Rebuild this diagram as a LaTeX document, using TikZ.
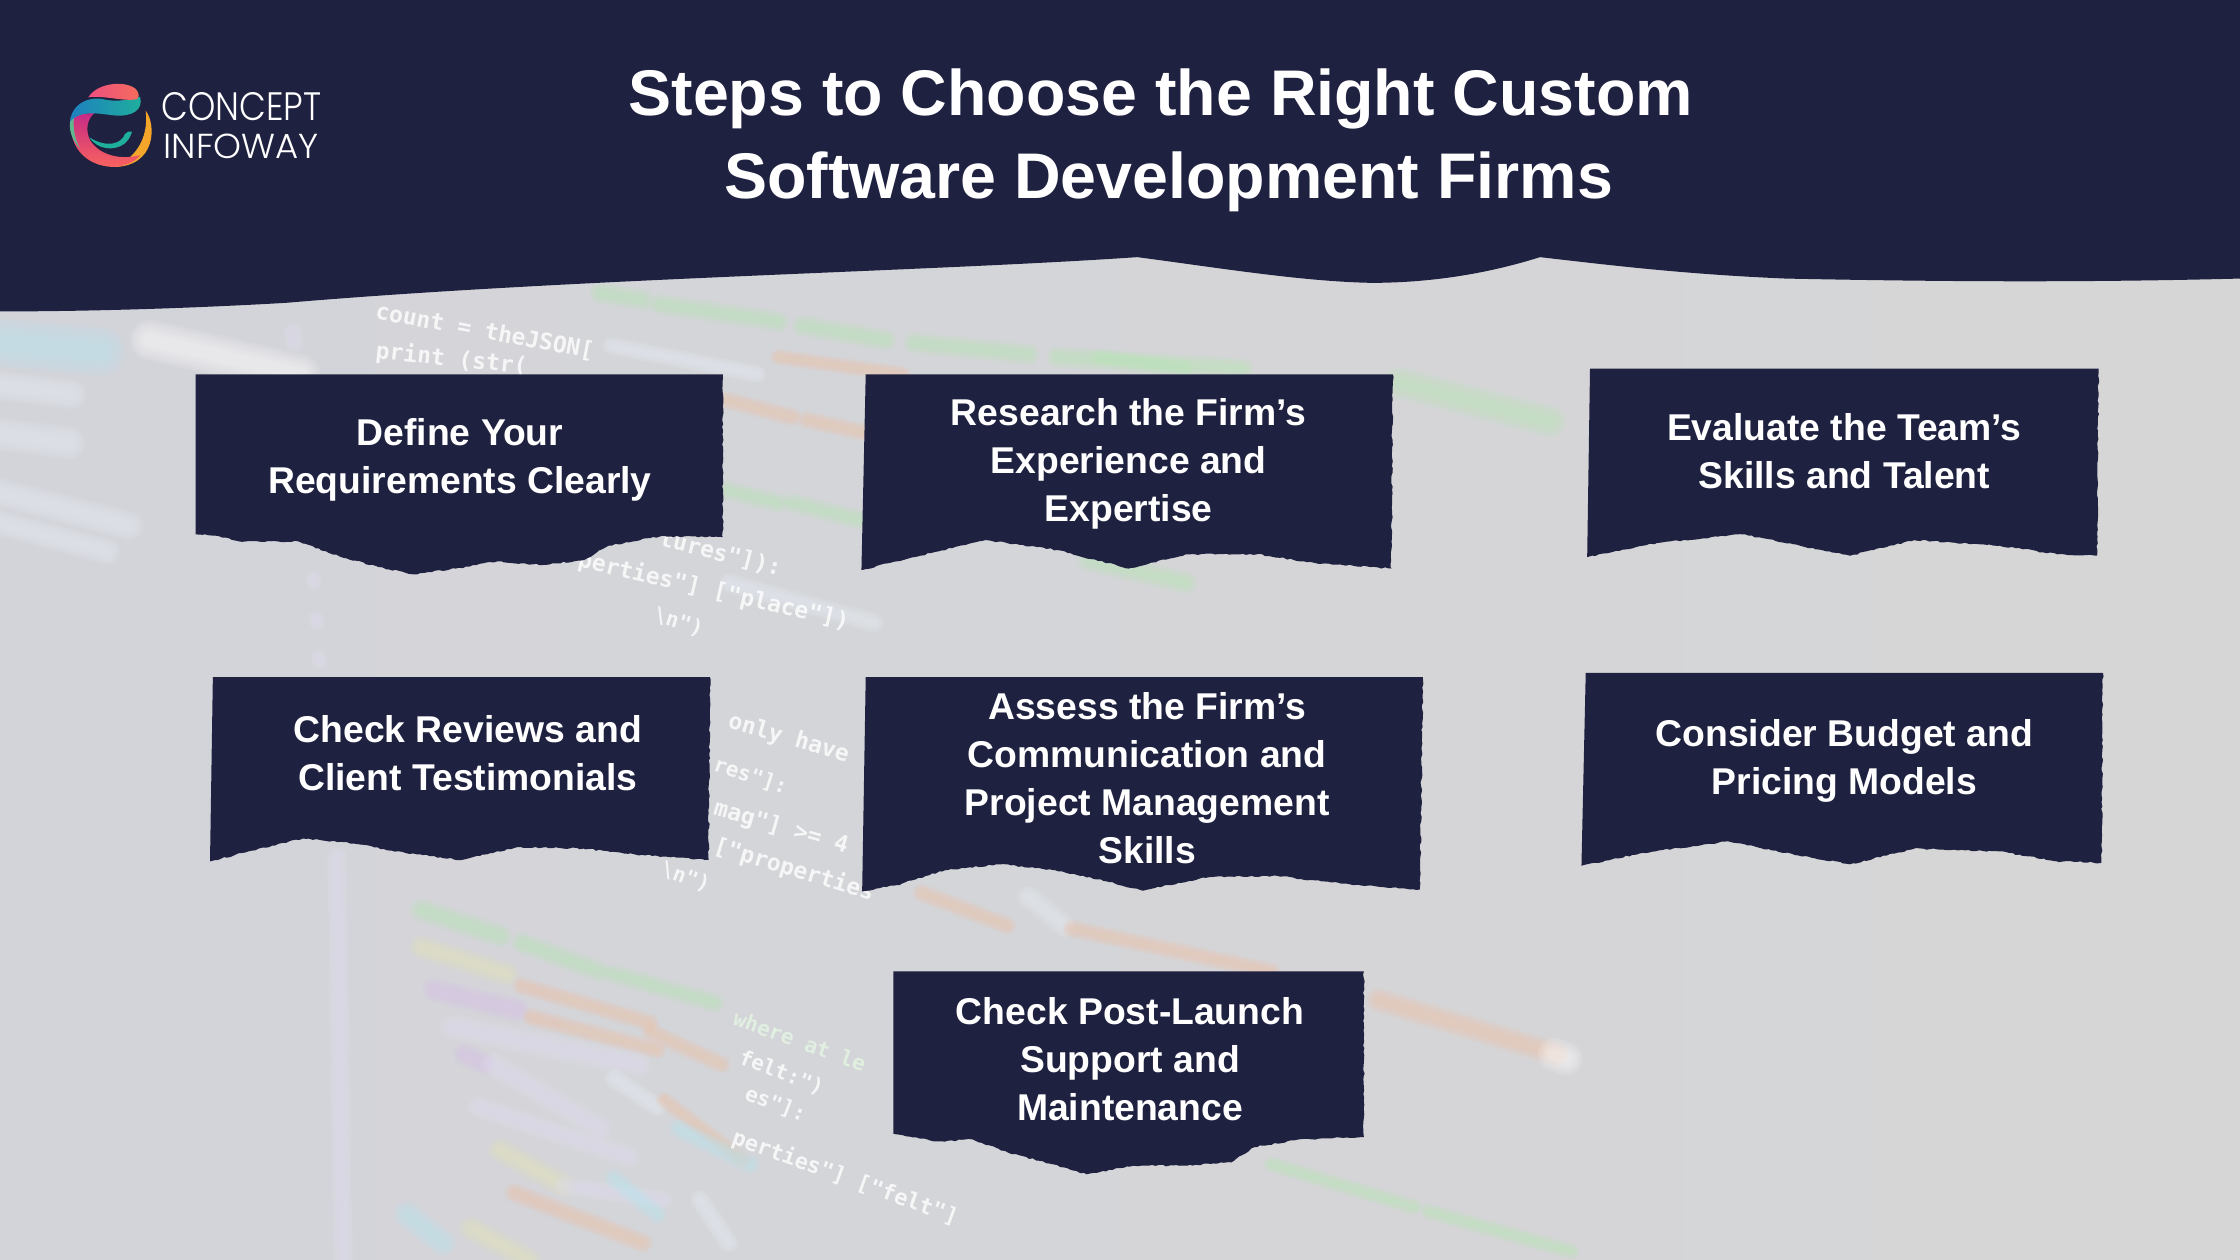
\documentclass[tikz,border=0pt]{standalone}
\usepackage{fontspec}
\usepackage{graphicx}
\setmainfont{Liberation Sans}
\newfontfamily\codef{DejaVu Sans Mono}
\newfontfamily\logof{Poppins Light}
\usetikzlibrary{decorations.pathmorphing}
\definecolor{navy}{HTML}{1F2140}
\definecolor{bgleft}{HTML}{D3D4DA}
\definecolor{bgright}{HTML}{D6D6D6}
\definecolor{salmon}{HTML}{EFC4AC}
\definecolor{mint}{HTML}{BCE8BA}
\definecolor{lav}{HTML}{E2E0F2}
\definecolor{ice}{HTML}{E8EEF5}
\definecolor{sky}{HTML}{BCE6F0}
\definecolor{sand}{HTML}{E6E4BC}
\definecolor{orchid}{HTML}{DCC4E8}
\definecolor{logoorange}{HTML}{F4A62A}
\definecolor{logomag}{HTML}{C42A86}
\definecolor{logocoral}{HTML}{F8625E}
\definecolor{logoblue}{HTML}{1E80BE}
\definecolor{logoteal}{HTML}{1FB09C}
\definecolor{logopink}{HTML}{EE4F80}
\definecolor{logored}{HTML}{F46C5C}
\definecolor{logogreen}{HTML}{5FB88E}
\tikzset{
  cardtext/.style={text=white,font=\fontsize{37.3}{48}\selectfont\bfseries,align=center,inner sep=0},
  titletext/.style={text=white,font=\fontsize{64.5}{80}\selectfont\bfseries,inner sep=0},
  codetext/.style={text=white,opacity=.8,font=\codef\bfseries\fontsize{#1}{#1}\selectfont,inner sep=0,anchor=west},
}
\newcommand{\blurline}[6]{%
  \foreach \f in {1.7,1.5,1.3,1.1,.9,.7,.5}{%
    \draw[line cap=round,draw=#5,opacity=.1,line width=\f*#6pt] (#1,#2) -- (#3,#4);}}
\newcommand{\torncard}[3]{%
  \fill[navy] #1 -- #2 decorate[decoration={random steps,segment length=3.5pt,amplitude=.8pt}]{#3} -- cycle;}
\begin{document}
\begin{tikzpicture}[x=1.42857pt,y=-1.42857pt]
\useasboundingbox (0,0) rectangle (1568,882);
\pgfmathsetseed{11}
% background
\shade[left color=bgleft,right color=bgright] (0,0) rectangle (1568,882);
% blurred code, top left
\blurline{0}{240}{70}{246}{sky}{30}
\blurline{105}{238}{210}{262}{white}{24}
\blurline{0}{270}{50}{276}{ice}{18}
\blurline{0}{304}{48}{310}{ice}{20}
\blurline{0}{345}{90}{368}{ice}{18}
\blurline{0}{366}{75}{386}{ice}{16}
\blurline{205}{233}{206}{240}{lav}{12}
\blurline{219}{405}{220}{408}{lav}{10}
\blurline{221}{433}{222}{436}{lav}{10}
\blurline{223}{460}{224}{463}{lav}{10}
% blurred code, top centre
\blurline{420}{205}{450}{210}{mint}{13}
\blurline{462}{213}{545}{225}{mint}{13}
\blurline{562}{228}{620}{238}{mint}{13}
\blurline{640}{240}{720}{248}{mint}{13}
\blurline{740}{250}{870}{258}{mint}{13}
\blurline{428}{242}{530}{262}{ice}{11}
\blurline{545}{250}{632}{262}{salmon}{10}
\blurline{508}{280}{555}{292}{salmon}{11}
\blurline{565}{294}{606}{303}{salmon}{11}
\blurline{508}{343}{545}{352}{mint}{12}
\blurline{555}{352}{602}{364}{mint}{12}
\blurline{762}{392}{830}{408}{mint}{14}
\blurline{770}{250}{830}{258}{mint}{10}
\blurline{980}{268}{1085}{295}{mint}{20}
\blurline{510}{408}{612}{436}{ice}{12}
% blurred code, centre and bottom
\blurline{645}{625}{705}{648}{salmon}{11}
\blurline{720}{628}{745}{648}{ice}{14}
\blurline{750}{650}{890}{680}{salmon}{11}
\blurline{965}{700}{1090}{738}{salmon}{15}
\blurline{1088}{738}{1096}{741}{white}{20}
\blurline{890}{815}{990}{845}{mint}{10}
\blurline{1000}{848}{1100}{876}{mint}{10}
\blurline{236}{600}{240}{882}{lav}{13}
\blurline{295}{637}{350}{655}{mint}{14}
\blurline{365}{660}{420}{680}{mint}{13}
\blurline{430}{682}{500}{702}{mint}{12}
\blurline{295}{663}{355}{682}{sand}{15}
\blurline{365}{690}{455}{716}{salmon}{11}
\blurline{304}{693}{362}{707}{orchid}{15}
\blurline{372}{712}{460}{735}{salmon}{11}
\blurline{317}{719}{447}{745}{lav}{16}
\blurline{455}{722}{505}{745}{salmon}{11}
\blurline{325}{738}{340}{745}{orchid}{14}
\blurline{345}{745}{420}{790}{lav}{15}
\blurline{430}{755}{460}{775}{ice}{12}
\blurline{465}{770}{520}{812}{salmon}{10}
\blurline{335}{775}{440}{810}{lav}{14}
\blurline{475}{790}{525}{815}{sky}{12}
\blurline{350}{805}{395}{830}{sand}{15}
\blurline{395}{830}{465}{840}{lav}{12}
\blurline{430}{825}{460}{850}{sky}{12}
\blurline{360}{835}{450}{870}{salmon}{12}
\blurline{285}{850}{310}{870}{sky}{16}
\blurline{330}{860}{370}{882}{sand}{15}
\blurline{490}{840}{510}{870}{ice}{12}
% sharp code
\node[codetext=23,rotate=-10.5] (c1) at (263,218) {count = theJSON[};
\node[codetext=23,rotate=-6] (c2) at (263,246) {print (str(};
\node[codetext=23,rotate=-14] (c3) at (462,377) {tures"]):};
\node[codetext=23,rotate=-13] (c4) at (405,392) {perties"] ["place"])};
\node[codetext=21,rotate=-18] (c5) at (458,430) {\textbackslash n")};
\node[codetext=23,rotate=-16] (c6) at (510,505) {only have};
\node[codetext=21,rotate=-18] (c7) at (500,535) {res"]:};
\node[codetext=23,rotate=-16] (c8) at (500,566) {mag"] >= 4};
\node[codetext=23,rotate=-17] (c9) at (500,592) {["properties};
\node[codetext=21,rotate=-20] (c10) at (463,608) {\textbackslash n")};
\node[codetext=21,rotate=-20,text=mint!40!white] (c11) at (514,712) {where at le};
\node[codetext=21,rotate=-21] (c12) at (518,740) {felt:")};
\node[codetext=21,rotate=-21] (c13) at (522,765) {es"]:};
\node[codetext=22,rotate=-20] (c14) at (513,796) {perties"] ["felt"]};
% banner
\fill[navy] (0,0) -- (1568,0) -- (1568,195) .. controls (1450,198) and (1350,197) .. (1250,195)
  .. controls (1180,192) and (1130,186) .. (1078,180)
  .. controls (1040,192) and (1000,198) .. (960,198)
  .. controls (910,197) and (850,187) .. (796,180)
  .. controls (650,190) and (400,195) .. (200,212)
  .. controls (130,216) and (60,218) .. (0,218) -- cycle;
% logo
\begin{scope}[x=0.33333pt,y=-0.33333pt]
\fill[logoorange] (437,332) .. controls (468,370) and (472,500) .. (340,501) .. controls (400,480) and (448,420) .. (437,332) -- cycle;
\shade[top color=logomag,bottom color=logocoral]
  (222,345) .. controls (195,400) and (230,500) .. (345,501) .. controls (380,498) and (410,482) .. (420,465)
  .. controls (370,480) and (300,470) .. (270,420) .. controls (255,390) and (262,355) .. (285,338) -- cycle;
\fill[logogreen] (213,352) .. controls (203,385) and (215,420) .. (240,445) .. controls (225,420) and (218,385) .. (222,350) -- cycle;
\shade[left color=logoblue,right color=logoteal]
  (210,365) .. controls (215,310) and (270,285) .. (320,300) .. controls (350,305) and (390,300) .. (420,290)
  .. controls (432,330) and (395,352) .. (340,346) .. controls (290,340) and (240,330) .. (210,365) -- cycle;
\shade[left color=logopink,right color=logored]
  (265,292) .. controls (290,250) and (370,240) .. (405,265) .. controls (420,280) and (418,292) .. (410,298)
  .. controls (370,305) and (310,285) .. (265,292) -- cycle;
\fill[logoteal] (268,412) .. controls (295,452) and (345,452) .. (372,432) .. controls (383,424) and (392,410) .. (396,395)
  .. controls (388,392) and (380,396) .. (375,402) .. controls (365,432) and (320,445) .. (268,412) -- cycle;
\node[inner sep=0,anchor=south west,text=white,font=\logof] (logoa) at (483,362) {\resizebox{160pt}{28pt}{CONCEPT}};
\node[inner sep=0,anchor=south west,text=white,font=\logof] (logob) at (490,478) {\resizebox{155pt}{24.5pt}{INFOWAY}};
\end{scope}
% title
\node[titletext] (t1) at (812.5,69) {Steps to Choose the Right Custom};
\node[titletext] (t2) at (818,127) {Software Development Firms};
% cards
\torncard{(137,262)}{(506,262)}{-- (506,376) -- (462,375.5) -- (426,382) -- (409,392) -- (380,395.5) -- (348,393) -- (319,398) -- (289,402) -- (259,395.5) -- (230,387) -- (209,379) -- (167.5,379) -- (151,375) -- (137,374)}
\torncard{(606,262)}{(975,262)}{-- (974,398) -- (920,394) -- (880,388) -- (830,388) -- (790,398) -- (740,385) -- (690,378) -- (640,390) -- (603,399)}
\torncard{(1113,258)}{(1469,258)}{-- (1468,389) -- (1440,388) -- (1400,382) -- (1340,378) -- (1295,389) -- (1260,382) -- (1220,374) -- (1160,380) -- (1111,390)}
\torncard{(149,474)}{(497,474)}{-- (496,602) -- (444,598) -- (408.6,594) -- (362,593) -- (323,602) -- (283.6,597) -- (248,590.5) -- (212,587) -- (176,595.5) -- (147,603)}
\torncard{(606,474)}{(996,474)}{-- (994,622.6) -- (968.5,621) -- (925,617) -- (893.5,613) -- (846.6,614) -- (825,618) -- (800,623.5) -- (775,617) -- (737,609) -- (700,605) -- (662,609) -- (628,619.5) -- (603.5,624)}
\torncard{(1110,471)}{(1472,471)}{-- (1471,604) -- (1440,603) -- (1400,596) -- (1340,594) -- (1295,605) -- (1250,597) -- (1210,589) -- (1150,597) -- (1107,606)}
\torncard{(625.4,680)}{(954.7,680)}{-- (954.7,796) -- (909,797.6) -- (878,803) -- (862,813.6) -- (831,816) -- (793.5,816) -- (760.7,822) -- (737,815) -- (706,807) -- (681,797.6) -- (656,799) -- (625.4,793.6)}
\node[cardtext] (n1) at (322,322) {Define Your\\Requirements Clearly};
\node[cardtext] (n2) at (790,324.5) {Research the Firm’s\\Experience and\\Expertise};
\node[cardtext] (n3) at (1291,316) {Evaluate the Team’s\\Skills and Talent};
\node[cardtext] (n4) at (327.5,527) {Check Reviews and\\Client Testimonials};
\node[cardtext] (n5) at (803,545) {Assess the Firm’s\\Communication and\\Project Management\\Skills};
\node[cardtext] (n6) at (1291,532.5) {Consider Budget and\\Pricing Models};
\node[cardtext] (n7) at (791,741.5) {Check Post-Launch\\Support and\\Maintenance};
\end{tikzpicture}
\end{document}
